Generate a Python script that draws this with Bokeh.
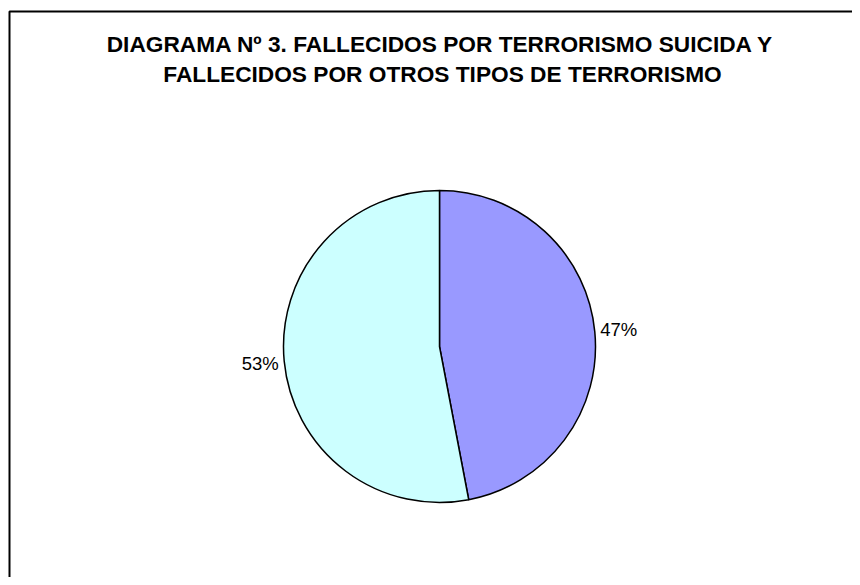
import math
from bokeh.plotting import figure
from bokeh.models import Range1d, ColumnDataSource
from bokeh.core.properties import value
from bokeh.embed import file_html
from bokeh.resources import INLINE

# ---- data ----
categories = ["Otros tipos de terrorismo", "Terrorismo suicida"]
shares = [47, 53]
labels = ["47%", "53%"]
colors = ["#9999FF", "#CCFFFF"]
title_lines = ["DIAGRAMA Nº 3. FALLECIDOS POR TERRORISMO SUICIDA Y",
               "FALLECIDOS POR OTROS TIPOS DE TERRORISMO"]

W, H = 852, 577
p = figure(width=W, height=H, output_backend="svg", toolbar_location=None,
           x_range=Range1d(0, W), y_range=Range1d(0, H),
           min_border=0, outline_line_color=None)
p.axis.visible = False
p.grid.visible = False
p.background_fill_color = "white"
p.border_fill_color = "white"

# picture pixel -> data units (1:1, y flipped)
def dx(sx):
    return sx
def dy(sy):
    return H - sy

# chart-area frame (cropped on right/bottom)
p.line([dx(9), dx(9), dx(900)], [dy(700), dy(11), dy(11)], line_color="black", line_width=2)

cx, cy, r = dx(439), dy(346), 156
total = sum(shares)
starts, ends, mids = [], [], []
cum = 0.0
for v in shares:
    a0 = cum / total * 2 * math.pi
    cum += v
    a1 = cum / total * 2 * math.pi
    starts.append(math.pi / 2 - a1)
    ends.append(math.pi / 2 - a0)
    mids.append(math.pi / 2 - (a0 + a1) / 2)

src = ColumnDataSource(dict(start=starts, end=ends, color=colors, cat=categories))
p.wedge(x=cx, y=cy, radius=r, start_angle="start", end_angle="end",
        fill_color="color", line_color="black", line_width=1.5, source=src)

lr = 180
lsrc = ColumnDataSource(dict(
    x=[cx + lr * math.cos(m) for m in mids],
    y=[cy + lr * math.sin(m) for m in mids],
    t=labels))
p.text(x="x", y="y", text="t", source=lsrc, text_align="center", text_baseline="middle",
       text_font=value("Liberation Sans"), text_font_size="18.5px", text_color="black")

tsrc = ColumnDataSource(dict(x=[dx(440), dx(442)], y=[dy(43), dy(73)], t=title_lines))
p.text(x="x", y="y", text="t", source=tsrc, text_align="center", text_baseline="middle",
       text_font=value("Liberation Sans"), text_font_style="bold", text_font_size="22.7px",
       text_color="black")

open("out.html", "w").write(file_html(p, INLINE))
